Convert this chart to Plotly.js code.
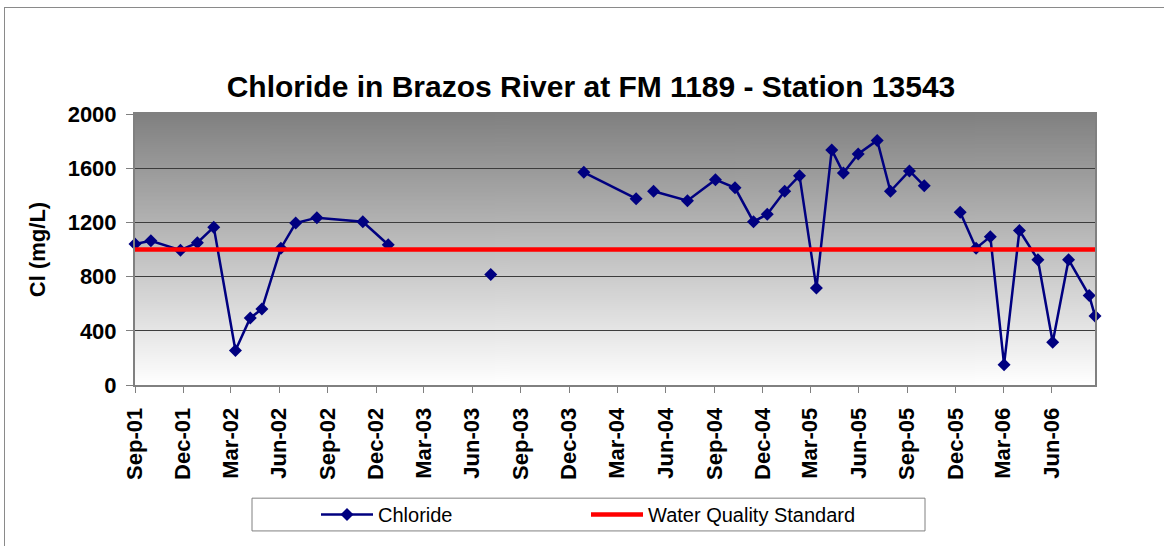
<!DOCTYPE html>
<html>
<head>
<meta charset="utf-8">
<script src="https://cdn.plot.ly/plotly-3.0.1.min.js"></script>
<style>
  html, body { margin: 0; padding: 0; background: #fff; }
  #chart { width: 1164px; height: 546px; }
  #frame { position: absolute; left: 4px; top: 7px; width: 1170px; height: 560px;
           border-left: 1px solid #8a8a8a; border-top: 1px solid #8a8a8a; pointer-events: none; }
</style>
</head>
<body>
<div id="chart"></div>
<div id="frame"></div>
<script>
// Sample dates (null values mark breaks in the sampling record)
const sampleDates = [
  "2001-09-01","2001-10-01","2001-11-26","2001-12-28","2002-01-28","2002-03-10","2002-04-07",
  "2002-04-29","2002-06-04","2002-07-02","2002-08-11","2002-11-06","2002-12-24",
  "2003-04-01",
  "2003-07-06",
  "2003-10-01",
  "2003-12-29","2004-04-06",
  "2004-04-20",
  "2004-05-09","2004-07-12","2004-09-03","2004-10-10","2004-11-14","2004-12-10","2005-01-12",
  "2005-02-09","2005-03-13","2005-04-11","2005-05-03","2005-05-31","2005-07-06","2005-07-31",
  "2005-09-05","2005-10-03",
  "2005-11-10",
  "2005-12-10","2006-01-09","2006-02-05","2006-03-03","2006-04-01","2006-05-06","2006-06-03",
  "2006-07-03","2006-08-11","2006-08-22"
];
const chlorideValues = [
  1040, 1065, 995, 1050, 1165, 255, 495,
  560, 1010, 1195, 1235, 1205, 1035,
  null,
  815,
  null,
  1570, 1375,
  null,
  1430, 1360, 1515, 1455, 1205, 1260, 1430,
  1545, 715, 1735, 1565, 1705, 1805, 1430,
  1580, 1470,
  null,
  1275, 1010, 1095, 150, 1140, 925, 315,
  925, 660, 510
];
const standardDates = ["2001-09-01", "2006-08-22"];
const standardValues = [1000, 1000];
const tickDates = [
  "2001-09-01","2001-12-01","2002-03-01","2002-06-01","2002-09-01","2002-12-01",
  "2003-03-01","2003-06-01","2003-09-01","2003-12-01","2004-03-01","2004-06-01",
  "2004-09-01","2004-12-01","2005-03-01","2005-06-01","2005-09-01","2005-12-01",
  "2006-03-01","2006-06-01"
];
const tickLabels = [
  "Sep-01","Dec-01","Mar-02","Jun-02","Sep-02","Dec-02","Mar-03","Jun-03","Sep-03","Dec-03",
  "Mar-04","Jun-04","Sep-04","Dec-04","Mar-05","Jun-05","Sep-05","Dec-05","Mar-06","Jun-06"
];
const yTicks = [0, 400, 800, 1200, 1600, 2000];

// gradient background for plot area
const cv = document.createElement('canvas');
cv.width = 4; cv.height = 256;
const ctx = cv.getContext('2d');
const g = ctx.createLinearGradient(0, 0, 0, 256);
g.addColorStop(0, '#808080');
g.addColorStop(1, '#ffffff');
ctx.fillStyle = g;
ctx.fillRect(0, 0, 4, 256);
const bgURL = cv.toDataURL('image/png');

const FONT = 'Liberation Sans, Arial, sans-serif';

const traces = [
  {
    x: sampleDates, y: chlorideValues, name: 'Chloride', type: 'scatter', mode: 'lines+markers',
    connectgaps: false, cliponaxis: false,
    line: { color: '#000080', width: 2.5 },
    marker: { symbol: 'diamond', size: 10, color: '#000080' }
  },
  {
    x: standardDates, y: standardValues, name: 'Water Quality Standard', type: 'scatter', mode: 'lines',
    line: { color: '#ff0000', width: 4.5 }
  }
];

const plotL = 135, plotR = 1095, plotT = 114, plotB = 387;
const pw = plotR - plotL, ph = plotB - plotT;
const px = v => (v - plotL) / pw;
const py = v => (plotB - v) / ph;

const layout = {
  width: 1164, height: 546,
  margin: { l: plotL, r: 1164 - plotR, t: plotT, b: 546 - plotB, pad: 0 },
  paper_bgcolor: 'rgba(0,0,0,0)',
  plot_bgcolor: 'rgba(0,0,0,0)',
  font: { family: FONT, color: '#000' },
  title: {
    text: 'Chloride in Brazos River at FM 1189 - Station 13543',
    font: { family: FONT, size: 30, weight: 'bold', color: '#000' },
    x: 591 / 1164, xanchor: 'center', xref: 'container',
    y: 1 - 86 / 546, yanchor: 'middle', yref: 'container'
  },
  xaxis: {
    type: 'date',
    range: ['2001-09-01', '2006-08-22'],
    tickmode: 'array', tickvals: tickDates, ticktext: tickLabels,
    tickangle: -90,
    tickfont: { family: FONT, size: 22, weight: 'bold', color: '#000' },
    ticks: 'outside', ticklen: 6, tickcolor: '#808080', tickwidth: 1,
    ticklabelstandoff: 6,
    showgrid: false, zeroline: false,
    showline: true, linecolor: '#808080', linewidth: 2, mirror: true
  },
  yaxis: {
    range: [0, 2000],
    tickmode: 'array', tickvals: yTicks,
    tickfont: { family: FONT, size: 22, weight: 'bold', color: '#000' },
    ticks: 'outside', ticklen: 7, tickcolor: '#808080', tickwidth: 1,
    ticklabelstandoff: 5,
    showgrid: true, gridcolor: '#3c3c3c', gridwidth: 1,
    zeroline: false,
    showline: true, linecolor: '#808080', linewidth: 2, mirror: true,
    title: { text: 'Cl (mg/L)', font: { family: FONT, size: 22, weight: 'bold', color: '#000' }, standoff: 16 }
  },
  images: [{
    source: bgURL, xref: 'paper', yref: 'paper', x: 0, y: 1, sizex: 1, sizey: 1,
    sizing: 'stretch', xanchor: 'left', yanchor: 'top', layer: 'below'
  }],
  shapes: [{
    type: 'rect', xref: 'paper', yref: 'paper',
    x0: px(252), x1: px(925), y0: py(534), y1: py(501),
    line: { color: '#808080', width: 1 }, fillcolor: 'rgba(0,0,0,0)'
  }],
  showlegend: true,
  legend: {
    orientation: 'h',
    x: px(316), xanchor: 'left',
    y: py(517.5), yanchor: 'middle',
    bgcolor: 'rgba(0,0,0,0)', borderwidth: 0,
    font: { family: FONT, size: 20, color: '#000' },
    itemwidth: 52,
    entrywidth: 203, entrywidthmode: 'pixels',
    traceorder: 'normal'
  }
};

Plotly.newPlot('chart', traces, layout, { displayModeBar: false, staticPlot: true });
</script>
</body>
</html>
